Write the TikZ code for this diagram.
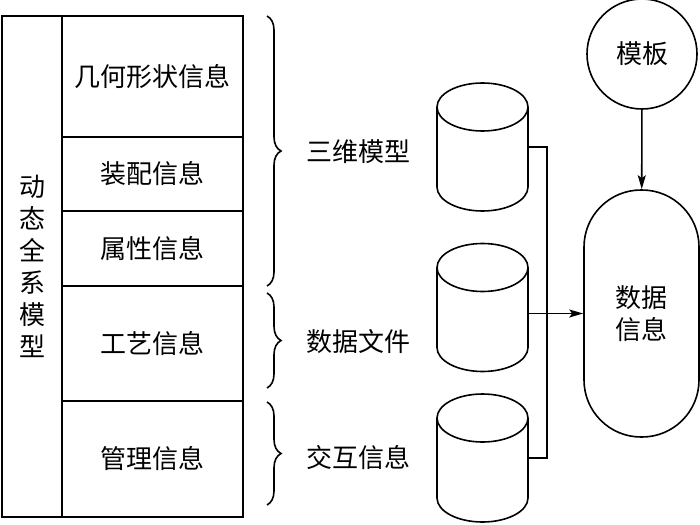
\documentclass[tikz,border=0pt]{standalone}
\usepackage{fontspec}
\newfontfamily\cjk{Noto Sans CJK SC}
\usetikzlibrary{arrows.meta,positioning,shapes.geometric,decorations.pathreplacing}

\begin{document}
\begin{tikzpicture}[x=1pt, y=-1pt,
  every node/.style={font=\cjk\fontsize{26}{32}\selectfont},
  cell/.style={draw, line width=1.6pt, inner sep=0pt, minimum width=181pt},
  db/.style={inner sep=0pt, outer sep=0pt, minimum width=91pt, minimum height=128pt},
  brc/.style={decorate, decoration={brace, amplitude=14pt}, line width=1.6pt},
  arr/.style={-{Stealth[length=14pt, width=8pt, inset=3pt]}, line width=1.6pt}]
\useasboundingbox (0,0) rectangle (700,524);
% Model column
\node[draw, line width=1.6pt, inner sep=0pt, minimum width=60pt,
      minimum height=501pt, align=center] (dyn) at (32,266.5)
  {动\\态\\全\\系\\模\\型};
% Information cells
\node[cell, minimum height=121pt] (geo) at (152.5,76.5) {几何形状信息};
\node[cell, minimum height=74pt] (asm) at (152.5,174) {装配信息};
\node[cell, minimum height=75pt] (attr) at (152.5,248.5) {属性信息};
\node[cell, minimum height=115pt] (craft) at (152.5,343.5) {工艺信息};
\node[cell, minimum height=116pt] (mgmt) at (152.5,459) {管理信息};
% Braces
\draw[brc] (267,16) -- (267,286);
\draw[brc] (267,293) -- (267,388);
\draw[brc] (267,402) -- (267,505);
% Brace labels
\node (model3d) at (358,152) {三维模型};
\node (datafile) at (358,342) {数据文件};
\node (interact) at (358,458) {交互信息};
% Databases
\node[db] (cyl1) at (482.5,147) {};
\node[db] (cyl2) at (482.5,307.5) {};
\node[db] (cyl3) at (482.5,458) {};
\foreach \c in {cyl1,cyl2,cyl3}
  \draw[line width=1.6pt] ([yshift=-24pt]\c.north west)
    -- ([yshift=24pt]\c.south west)
    arc[start angle=180, end angle=360, x radius=45.5pt, y radius=24pt]
    -- ([yshift=-24pt]\c.north east)
    arc[start angle=0, end angle=360, x radius=45.5pt, y radius=24pt];
% Template and data
\node[draw, circle, minimum size=110pt, line width=1.6pt, inner sep=0pt]
  (tmpl) at (642,54) {模板};
\node[draw, rectangle, rounded corners=57pt, minimum width=115pt,
      minimum height=247pt, line width=1.6pt, align=center]
  (info) at (641.5,313.5) {数据\\信息};
% Connectors
\draw[line width=1.6pt] (cyl1.east) -- ++(19,0) |- (cyl3.east);
\draw[arr] (cyl2.east |- info.west) -- (info.west);
\draw[arr] (tmpl) -- (info);
\end{tikzpicture}
\end{document}
